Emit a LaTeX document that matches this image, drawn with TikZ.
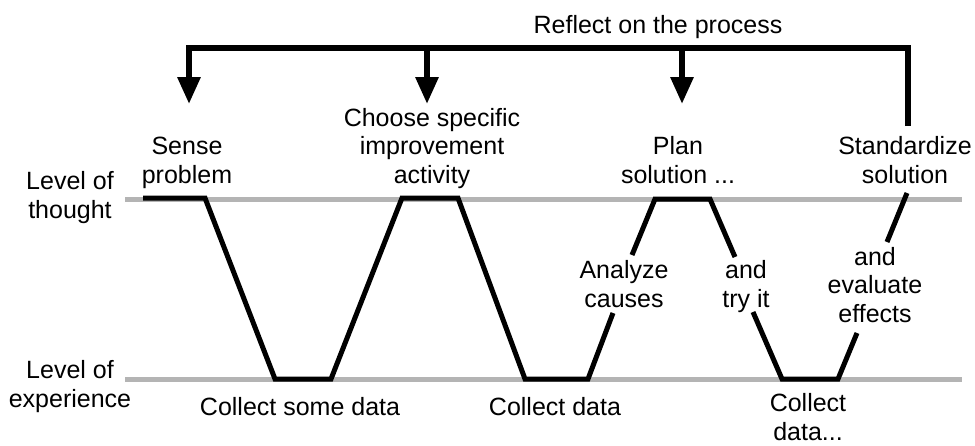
\documentclass[tikz,border=0pt]{standalone}
\usepackage{fontspec}
\setmainfont{Liberation Sans}
\usetikzlibrary{arrows.meta}
\definecolor{levelgray}{HTML}{B4B4B4}
\begin{document}
\begin{tikzpicture}[x=1pt,y=-1pt,
  lbl/.style={font=\fontsize{25}{28.5}\selectfont, align=center, inner sep=0pt, anchor=base},
  levelline/.style={draw=levelgray, line width=5pt},
  trail/.style={line width=5pt, line join=miter, line cap=butt},
  bracket/.style={line width=6pt, line join=miter},
  tipped/.style={-{Triangle[width=22pt,length=27pt]}}]
\useasboundingbox (0,0) rectangle (975,445);

% level lines
\coordinate (tl) at (125,199); \coordinate (tr) at (962,199);
\coordinate (bl) at (125,379); \coordinate (br) at (962,379);
\draw[levelline] (tl) -- (tr);
\draw[levelline] (bl) -- (br);

% texts (anchored at the baseline of their last line)
\node[lbl] (reflect) at (658,33) {Reflect on the process};
\node[lbl] (sense) at (187,183) {Sense\\problem};
\node[lbl] (choose) at (432,183) {Choose specific\\improvement\\activity};
\node[lbl] (plan) at (678,183) {Plan\\solution ...};
\node[lbl] (std) at (905,183) {Standardize\\solution};
\node[lbl] (thought) at (70,218) {Level of\\thought};
\node[lbl] (exper) at (70,407) {Level of\\experience};
\node[lbl] (csd) at (300,415) {Collect some data};
\node[lbl] (cd) at (555,415) {Collect data};
\node[lbl] (cdd) at (808,440) {Collect\\data...};
\node[lbl] (analyze) at (624,307) {Analyze\\causes};
\node[lbl] (try) at (746,307) {and\\try it};
\node[lbl] (eval) at (875,322) {and\\evaluate\\effects};

% trail corners
\coordinate (p1) at (143,198); \coordinate (p2) at (205,198);
\coordinate (p3) at (275,379); \coordinate (p4) at (331,379);
\coordinate (p5) at (402,198); \coordinate (p6) at (458,198);
\coordinate (p7) at (525,379); \coordinate (p8) at (588,379);
\coordinate (p9) at (613,313);
\coordinate (q1) at (632,255); \coordinate (q2) at (655,199);
\coordinate (q3) at (710,199); \coordinate (q4) at (735,257);
\coordinate (r1) at (753,312); \coordinate (r2) at (782,379);
\coordinate (r3) at (838,379); \coordinate (r4) at (857,333);
\coordinate (s1) at (887,242); \coordinate (s2) at (907,193);
\draw[trail] (p1) -- (p2) -- (p3) -- (p4) -- (p5) -- (p6) -- (p7) -- (p8) -- (p9);
\draw[trail] (q1) -- (q2) -- (q3) -- (q4);
\draw[trail] (r1) -- (r2) -- (r3) -- (r4);
\draw[trail] (s1) -- (s2);

% reflect bracket
\coordinate (bstart) at (908,126);
\coordinate (bcr) at (908,48); \coordinate (bcl) at (189,48);
\coordinate (a1) at (189,104);
\coordinate (m2) at (427,48); \coordinate (a2) at (427,104);
\coordinate (m3) at (682,48); \coordinate (a3) at (682,104);
\draw[bracket,tipped] (bstart) -- (bcr) -- (bcl) -- (a1);
\draw[bracket,tipped] (m2) -- (a2);
\draw[bracket,tipped] (m3) -- (a3);
\end{tikzpicture}
\end{document}
